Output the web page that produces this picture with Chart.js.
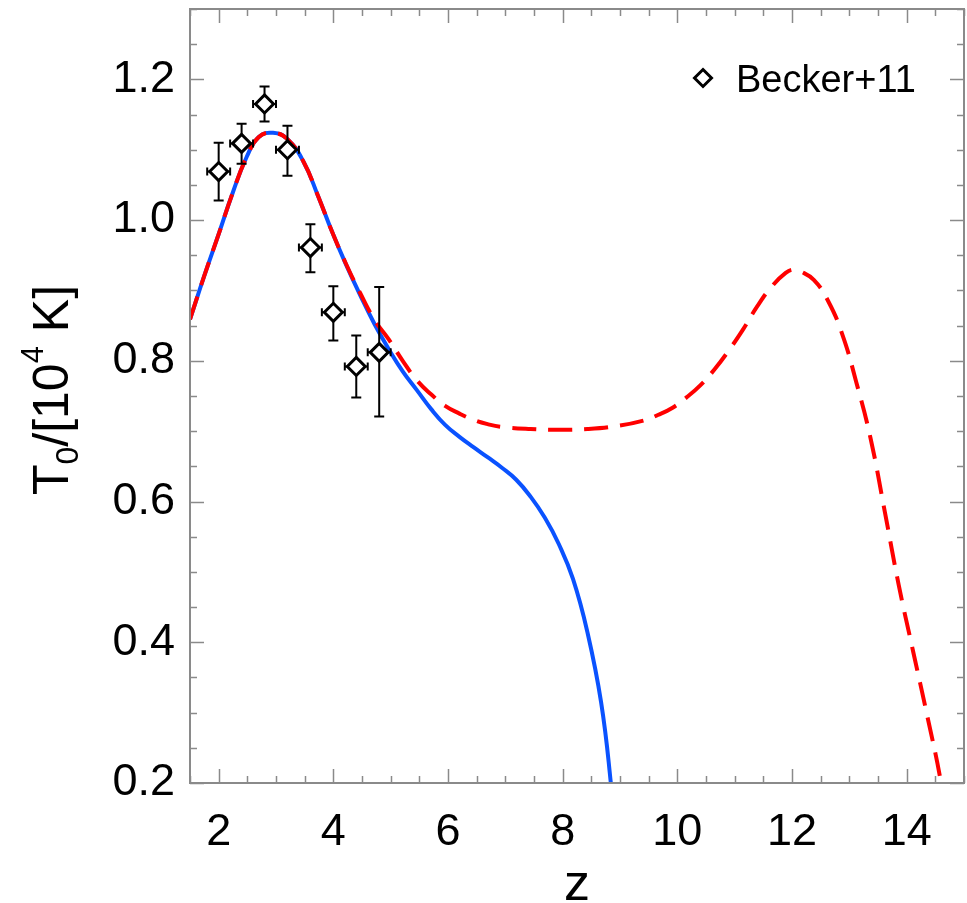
<!DOCTYPE html>
<html>
<head>
<meta charset="utf-8">
<script src="https://cdn.jsdelivr.net/npm/chart.js@4.4.1/dist/chart.umd.min.js"></script>
<style>
  html, body { margin: 0; padding: 0; background: #fff; }
  #wrap { width: 967px; height: 903px; }
</style>
</head>
<body>
<div id="wrap"><canvas id="chart" width="967" height="903"></canvas></div>
<script>
// Becker+11 measurements (z, T0 in 1e4 K, error bar ends)
const beckerZ = [2.0, 2.4, 2.8, 3.2, 3.6, 4.0, 4.4, 4.8];
const beckerT = [1.069, 1.109, 1.165, 1.100, 0.961, 0.869, 0.792, 0.812];
const beckerTLow = [1.028, 1.080, 1.140, 1.063, 0.926, 0.829, 0.748, 0.721];
const beckerTHigh = [1.110, 1.137, 1.190, 1.134, 0.994, 0.906, 0.836, 0.905];
const beckerZErr = [0.2, 0.2, 0.2, 0.2, 0.2, 0.2, 0.2, 0.2];

// solid blue model
const blueZ = [1.5, 1.75, 2.0, 2.25, 2.49, 2.7, 2.95, 3.2, 3.48, 3.73, 3.98, 4.22, 4.47, 4.72, 4.97, 5.21,
  5.46, 5.71, 5.95, 6.2, 6.45, 6.69, 6.94, 7.19, 7.44, 7.69, 7.93, 8.18, 8.43, 8.67, 8.84, 8.87];
const blueT = [0.859, 0.921, 0.980, 1.040, 1.090, 1.118, 1.124, 1.115, 1.083, 1.035, 0.983, 0.937, 0.893, 0.852, 0.816, 0.785,
  0.758, 0.731, 0.709, 0.692, 0.677, 0.663, 0.648, 0.631, 0.607, 0.577, 0.540, 0.490, 0.415, 0.315, 0.200, 0.160];

// dashed red model
const redZ = [1.5, 1.75, 2.0, 2.25, 2.49, 2.7, 2.95, 3.2, 3.48, 3.73, 3.98, 4.22, 4.47, 4.72, 4.97, 5.21,
  5.46, 5.71, 5.95, 6.2, 6.45, 6.69, 6.94, 7.44, 7.93, 8.43, 8.92, 9.41, 9.66, 9.91, 10.16, 10.4,
  10.65, 10.9, 11.15, 11.39, 11.64, 11.89, 12.04, 12.13, 12.38, 12.63, 12.88, 13.12, 13.37, 13.62,
  13.86, 14.11, 14.36, 14.6, 14.63];
const redT = [0.859, 0.921, 0.980, 1.040, 1.090, 1.118, 1.124, 1.115, 1.083, 1.035, 0.983, 0.938, 0.896, 0.858, 0.830, 0.800,
  0.772, 0.752, 0.736, 0.725, 0.716, 0.710, 0.706, 0.703, 0.702, 0.703, 0.707, 0.715, 0.723, 0.733, 0.748, 0.765,
  0.788, 0.815, 0.845, 0.877, 0.905, 0.925, 0.930, 0.928, 0.915, 0.885, 0.837, 0.770, 0.690, 0.585,
  0.482, 0.388, 0.295, 0.200, 0.170];

const xTickValues = [2, 4, 6, 8, 10, 12, 14];
const yTickValues = [0.2, 0.4, 0.6, 0.8, 1.0, 1.2];
const legendLabel = "Becker+11";

const FONT = "'Liberation Sans', Arial, Helvetica, sans-serif";
const AXIS_GREY = "#8a8a8a";

const toPoints = (xs, ys) => xs.map((v, i) => ({ x: v, y: ys[i] }));

// error bars, frame with inward ticks, axis titles and the legend
const extras = {
  id: "extras",
  beforeDatasetDraw(chart, args) {
    if (args.index !== 0) return;
    const { ctx } = chart;
    const x = chart.scales.x, y = chart.scales.y;
    ctx.save();
    ctx.strokeStyle = "#000";
    ctx.lineWidth = 2;
    beckerZ.forEach((z, i) => {
      const px = x.getPixelForValue(z);
      const py = y.getPixelForValue(beckerT[i]);
      const hi = y.getPixelForValue(beckerTHigh[i]);
      const lo = y.getPixelForValue(beckerTLow[i]);
      const l = x.getPixelForValue(z - beckerZErr[i]);
      const r = x.getPixelForValue(z + beckerZErr[i]);
      ctx.beginPath();
      ctx.moveTo(px, hi); ctx.lineTo(px, lo);
      ctx.moveTo(px - 5, hi); ctx.lineTo(px + 5, hi);
      ctx.moveTo(px - 5, lo); ctx.lineTo(px + 5, lo);
      ctx.moveTo(l, py); ctx.lineTo(r, py);
      ctx.moveTo(l, py - 4); ctx.lineTo(l, py + 4);
      ctx.moveTo(r, py - 4); ctx.lineTo(r, py + 4);
      ctx.stroke();
    });
    ctx.restore();
  },
  afterDraw(chart) {
    const { ctx, chartArea } = chart;
    const x = chart.scales.x, y = chart.scales.y;
    const { left, right, top, bottom } = chartArea;
    ctx.save();

    // minor / major ticks pointing inward on all four sides
    ctx.strokeStyle = AXIS_GREY;
    ctx.lineWidth = 1.5;
    ctx.beginPath();
    for (let v = 1.5; v <= 15.0001; v += 0.5) {
      const px = Math.round(x.getPixelForValue(v)) + 0.5;
      const len = v % 2 === 0 ? 14 : 7;
      ctx.moveTo(px, bottom); ctx.lineTo(px, bottom - len);
      ctx.moveTo(px, top); ctx.lineTo(px, top + len);
    }
    for (let k = 4; k <= 26; k++) {
      const py = Math.round(y.getPixelForValue(k * 0.05)) + 0.5;
      const len = k % 4 === 0 ? 14 : 7;
      ctx.moveTo(left, py); ctx.lineTo(left + len, py);
      ctx.moveTo(right, py); ctx.lineTo(right - len, py);
    }
    ctx.stroke();

    ctx.lineWidth = 2;
    ctx.strokeRect(left, top, right - left, bottom - top);

    // x title
    ctx.fillStyle = "#000";
    ctx.font = "52px " + FONT;
    ctx.textAlign = "center";
    ctx.textBaseline = "alphabetic";
    ctx.fillText("z", (left + right) / 2, 900);

    // y title T0/[10^4 K], rotated
    const parts = [
      { t: "T", size: 50, dy: 0 },
      { t: "0", size: 32, dy: 10 },
      { t: "/[10", size: 50, dy: 0 },
      { t: "4", size: 31, dy: -25 },
      { t: " K]", size: 50, dy: 0 }
    ];
    let total = 0;
    parts.forEach(p => {
      ctx.font = p.size + "px " + FONT;
      p.w = ctx.measureText(p.t).width;
      total += p.w;
    });
    ctx.translate(68, 390);
    ctx.rotate(-Math.PI / 2);
    ctx.textAlign = "left";
    let cx = -total / 2;
    parts.forEach(p => {
      ctx.font = p.size + "px " + FONT;
      ctx.fillText(p.t, cx, p.dy);
      cx += p.w;
    });
    ctx.setTransform(1, 0, 0, 1, 0, 0);

    // legend
    const lx = 703, ly = 78, r = 8.5;
    ctx.strokeStyle = "#000";
    ctx.lineWidth = 3;
    ctx.beginPath();
    ctx.moveTo(lx, ly - r); ctx.lineTo(lx + r, ly); ctx.lineTo(lx, ly + r); ctx.lineTo(lx - r, ly);
    ctx.closePath();
    ctx.stroke();
    ctx.font = "38px " + FONT;
    ctx.textAlign = "left";
    ctx.fillText(legendLabel, 736, 92);

    ctx.restore();
  }
};

const ctx = document.getElementById("chart").getContext("2d");
new Chart(ctx, {
  type: "scatter",
  data: {
    datasets: [
      {
        label: legendLabel,
        data: toPoints(beckerZ, beckerT),
        showLine: false,
        pointStyle: "rectRot",
        pointRadius: 9,
        pointBorderWidth: 3,
        pointBackgroundColor: "#fff",
        pointBorderColor: "#000"
      },
      {
        label: "dashed model",
        data: toPoints(redZ, redT),
        showLine: true,
        borderColor: "#ff0000",
        borderWidth: 4,
        borderDash: [24, 12],
        pointRadius: 0,
        tension: 0.45
      },
      {
        label: "solid model",
        data: toPoints(blueZ, blueT),
        showLine: true,
        borderColor: "#0a52ff",
        borderWidth: 4,
        pointRadius: 0,
        tension: 0.45
      }
    ]
  },
  options: {
    responsive: false,
    animation: false,
    devicePixelRatio: 1,
    layout: { autoPadding: false, padding: { left: 0, top: 9, right: 3, bottom: 0 } },
    plugins: {
      legend: { display: false },
      tooltip: { enabled: false }
    },
    scales: {
      x: {
        type: "linear",
        min: 1.5,
        max: 15,
        grid: { display: false, drawTicks: false },
        border: { display: false },
        afterBuildTicks: s => { s.ticks = xTickValues.map(v => ({ value: v })); },
        afterFit: s => {
          s.height = 120;
          s.paddingLeft = 0; s.paddingRight = 0;
        },
        ticks: {
          color: "#000",
          font: { family: FONT, size: 45 },
          padding: 23,
          maxRotation: 0,
          autoSkip: false
        }
      },
      y: {
        type: "linear",
        min: 0.2,
        max: 1.3,
        grid: { display: false, drawTicks: false },
        border: { display: false },
        afterBuildTicks: s => { s.ticks = yTickValues.map(v => ({ value: v })); },
        afterFit: s => {
          s.width = 190;
          s.paddingTop = 0; s.paddingBottom = 0;
        },
        ticks: {
          color: "#000",
          font: { family: FONT, size: 45 },
          padding: 15,
          callback: v => v.toFixed(1)
        }
      }
    }
  },
  plugins: [extras]
});
</script>
</body>
</html>
